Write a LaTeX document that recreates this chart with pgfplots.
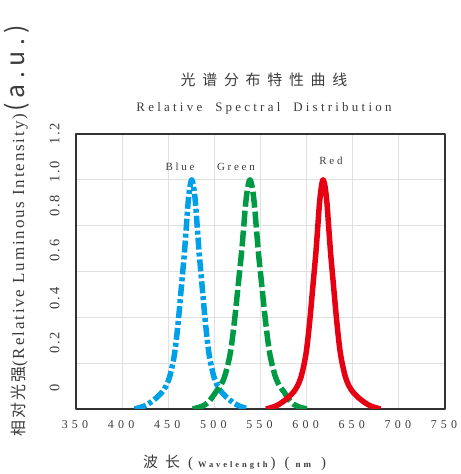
\documentclass[border=0pt]{standalone}
\usepackage{fontspec}
\setmainfont{Liberation Serif}
\newfontfamily\cjk[LetterSpace=12]{Noto Sans CJK SC}
\newfontfamily\cjkspaced[LetterSpace=45]{Noto Sans CJK SC}
\newfontfamily\spaced[LetterSpace=25]{Liberation Serif}
\newfontfamily\tickfont[LetterSpace=35]{Liberation Serif}
\newfontfamily\ytickfont[LetterSpace=12]{Liberation Serif}
\newfontfamily\wavefont[LetterSpace=35]{Liberation Serif}
\newfontfamily\ylabfont[LetterSpace=11]{Liberation Serif}
\newfontfamily\aufont[LetterSpace=22]{Noto Sans CJK SC}
\usepackage{pgfplots}
\pgfplotsset{compat=1.18}
\definecolor{cblue}{RGB}{0,160,233}
\definecolor{cgreen}{RGB}{0,153,68}
\definecolor{cred}{RGB}{230,0,18}
\definecolor{txt}{RGB}{60,60,60}
\begin{document}
\begin{tikzpicture}
\begin{axis}[
  at={(0bp,0bp)}, anchor=south west,
  scale only axis, width=369bp, height=275bp,
  xmin=350, xmax=750, ymin=0, ymax=1.2,
  xtick={350,400,...,750},
  xticklabels={350,400,450,500,550,600,650,700,750},
  ytick={0.090,0.288,0.483,0.692,0.887,1.036,1.2},
  yticklabels={0,0.2,0.4,0.6,0.8,1.0,1.2},
  minor ytick={0.2,0.4,0.6,0.8,1.0},
  yminorgrids=true, xmajorgrids=true, ymajorgrids=false,
  major tick length=0pt, minor tick length=0pt,
  grid style={draw=black!12, line width=0.9pt},
  minor grid style={draw=black!12, line width=0.9pt},
  axis line style={draw=black!80, line width=1.3pt},
  xticklabel style={font=\tickfont\fontsize{12}{12}\selectfont, text=txt, yshift=-8bp, xshift=-1bp},
  yticklabel style={rotate=90, anchor=south, font=\ytickfont\fontsize{14.5}{14.5}\selectfont, text=txt, yshift=13bp},
  line join=round,
]
\addplot[cblue, line width=5.5pt, smooth, dash pattern=on 12pt off 3pt on 4pt off 3pt] coordinates {
(413.5,0) (423.5,0.012) (430.5,0.028) (437.5,0.05) (443.5,0.075) (447.5,0.10) (451.5,0.14)
(455.5,0.21) (457.5,0.26) (459.5,0.33) (461.5,0.41) (463.5,0.50) (465.5,0.59) (467.5,0.68)
(469.5,0.79) (471.5,0.90) (473.5,0.97) (475.5,1.0) (477.5,0.97) (479.5,0.90) (481.5,0.79)
(483.5,0.68) (485.5,0.59) (487.5,0.50) (489.5,0.41) (491.5,0.33) (493.5,0.26) (495.5,0.21)
(499.5,0.14) (503.5,0.10) (507.5,0.075) (513.5,0.05) (520.5,0.028) (527.5,0.012) (537,0)
};
\addplot[cgreen, line width=5.5pt, smooth, dash pattern=on 16pt off 4pt] coordinates {
(476.5,0) (486.6,0.012) (493.6,0.03) (501.8,0.075) (506.4,0.10) (511,0.14) (515.6,0.21)
(517.9,0.26) (520.2,0.33) (522.5,0.41) (524.8,0.50) (527.1,0.59) (529.4,0.68) (531.7,0.79)
(534,0.90) (536.3,0.97) (538.6,1.0) (540.9,0.97) (543.2,0.90) (545.5,0.79) (547.8,0.68)
(550.1,0.59) (552.4,0.50) (554.7,0.41) (557,0.33) (559.3,0.26) (561.6,0.21) (566.2,0.14)
(570.8,0.10) (575.4,0.075) (583,0.03) (590,0.012) (600,0)
};
\addplot[cred, line width=5.5pt, smooth] coordinates {
(556,0) (566,0.012) (573,0.028) (580,0.05) (586,0.075) (590,0.10) (594,0.14) (598,0.21)
(600,0.26) (602,0.33) (604,0.41) (606,0.50) (608,0.59) (610,0.68) (612,0.79) (614,0.90)
(616,0.97) (617.8,1.0) (620,0.97) (622,0.90) (624,0.79) (626,0.68) (628,0.59) (630,0.50)
(632,0.41) (634,0.33) (636,0.26) (638,0.21) (642,0.14) (646,0.10) (650,0.075) (656,0.05)
(663,0.028) (670,0.012) (680,0)
};
\node[font=\spaced\fontsize{11}{11}\selectfont, text=txt] at (axis cs:462.7,1.057) {Blue};
\node[font=\spaced\fontsize{11}{11}\selectfont, text=txt] at (axis cs:523.4,1.057) {Green};
\node[font=\spaced\fontsize{11}{11}\selectfont, text=txt] at (axis cs:626.4,1.083) {Red};
\end{axis}
% titles
\node[text=txt, font=\cjkspaced\fontsize{15}{15}\selectfont] at (188bp,329bp) {光谱分布特性曲线};
\node[text=txt, font=\spaced\fontsize{13}{13}\selectfont] at (188bp,301bp) {Relative\ \ Spectral\ \ Distribution};
% x label
\node[text=txt, anchor=west, inner sep=0pt] at (67bp,-54bp) {{\cjk\fontsize{15}{15}\selectfont 波\hspace{7bp}长}\hspace{8bp}{\fontsize{15}{15}\selectfont (}\hspace{5bp}{\wavefont\bfseries\fontsize{8.5}{8.5}\selectfont Wavelength}\hspace{3bp}{\fontsize{15}{15}\selectfont )\hspace{9bp}(}\hspace{6bp}{\wavefont\bfseries\fontsize{9}{9}\selectfont nm}\hspace{10bp}{\fontsize{15}{15}\selectfont )}};
% y label
\node[text=txt, rotate=90, anchor=west, inner sep=0pt] at (-59.5bp,-28bp) {{\cjk\fontsize{16}{16}\selectfont 相对\,光强}{\ylabfont\fontsize{17}{17}\selectfont (Relative Luminous Intensity)}\hspace{2bp}{\aufont\fontsize{25}{25}\selectfont (a.u.)}};
\path[use as bounding box] (-76bp,-65bp) rectangle (381bp,409bp);
\end{tikzpicture}
\end{document}
